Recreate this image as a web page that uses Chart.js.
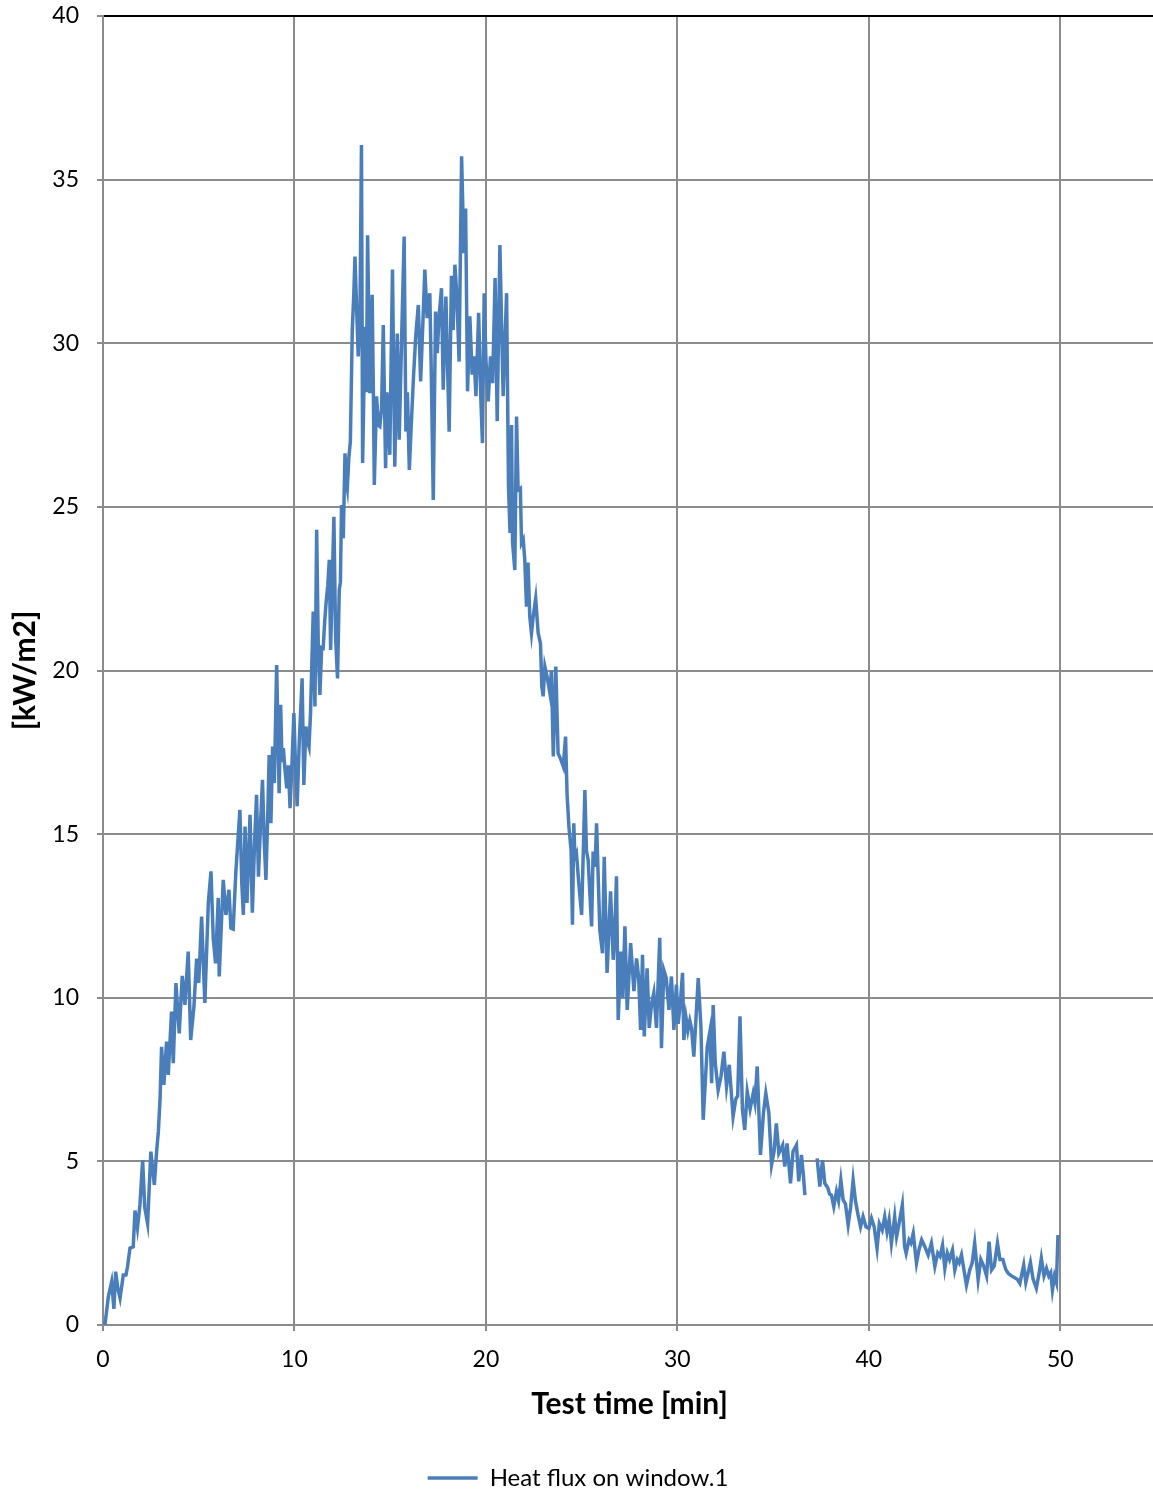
<!DOCTYPE html>
<html>
<head>
<meta charset="utf-8">
<title>Heat flux on window</title>
<script src="https://cdn.jsdelivr.net/npm/chart.js@4.4.1/dist/chart.umd.min.js"></script>
<style>
    html, body { margin: 0; padding: 0; background: #fff; overflow: hidden; }
    #wrap { position: relative; width: 1160px; height: 1494px; }
</style>
</head>
<body>
<div id="wrap"><canvas id="flux-chart"></canvas></div>
<script>
// measured heat flux, time in minutes; null marks the dropout near 37 min
var timeMin = [
    0.10, 0.28, 0.45, 0.57, 0.66, 0.78, 0.89, 1.06, 1.20, 1.28, 1.41, 1.58, 1.67, 1.80, 1.93, 2.07, 2.18, 2.33, 2.50, 2.68,
    2.80, 2.89, 2.98, 3.06, 3.18, 3.32, 3.41, 3.58, 3.67, 3.81, 3.98, 4.14, 4.28, 4.45, 4.58, 4.75, 4.89, 5.00, 5.15, 5.32,
    5.50, 5.64, 5.76, 5.88, 6.02, 6.07, 6.28, 6.42, 6.58, 6.68, 6.80, 6.94, 7.15, 7.25, 7.33, 7.42, 7.52, 7.68, 7.80, 7.92,
    8.02, 8.12, 8.22, 8.33, 8.42, 8.51, 8.60, 8.68, 8.77, 8.86, 8.95, 9.07, 9.20, 9.28, 9.35, 9.42, 9.50, 9.60, 9.68, 9.77,
    9.88, 9.97, 10.06, 10.14, 10.25, 10.40, 10.49, 10.60, 10.70, 10.76, 10.84, 10.98, 11.07, 11.16, 11.25, 11.33, 11.42, 11.50, 11.58, 11.65,
    11.74, 11.82, 11.89, 12.06, 12.15, 12.25, 12.34, 12.40, 12.46, 12.55, 12.64, 12.70, 12.76, 12.84, 12.92, 13.02, 13.10, 13.16, 13.25, 13.33,
    13.42, 13.50, 13.56, 13.64, 13.70, 13.76, 13.82, 13.94, 14.06, 14.12, 14.17, 14.29, 14.38, 14.46, 14.55, 14.64, 14.76, 14.83, 14.90, 14.98,
    15.05, 15.12, 15.24, 15.37, 15.47, 15.60, 15.73, 15.82, 15.90, 16.00, 16.10, 16.22, 16.34, 16.47, 16.59, 16.70, 16.81, 16.93, 17.07, 17.15,
    17.25, 17.37, 17.46, 17.55, 17.68, 17.77, 17.91, 18.08, 18.20, 18.29, 18.38, 18.48, 18.60, 18.73, 18.85, 18.94, 19.04, 19.16, 19.28, 19.38,
    19.48, 19.62, 19.74, 19.82, 19.91, 20.00, 20.12, 20.24, 20.35, 20.48, 20.59, 20.73, 20.90, 21.08, 21.18, 21.26, 21.34, 21.39, 21.51, 21.60,
    21.68, 21.80, 21.86, 21.95, 22.03, 22.12, 22.20, 22.29, 22.38, 22.48, 22.60, 22.73, 22.85, 22.92, 22.99, 23.08, 23.20, 23.34, 23.42, 23.52,
    23.65, 23.77, 23.90, 24.04, 24.16, 24.24, 24.34, 24.45, 24.52, 24.59, 24.65, 24.73, 24.85, 25.00, 25.17, 25.25, 25.34, 25.52, 25.60, 25.70,
    25.78, 25.95, 26.09, 26.18, 26.33, 26.42, 26.51, 26.65, 26.73, 26.82, 26.91, 27.05, 27.15, 27.26, 27.38, 27.56, 27.73, 27.87, 27.98, 28.08,
    28.18, 28.27, 28.42, 28.53, 28.65, 28.77, 28.91, 29.08, 29.17, 29.29, 29.42, 29.56, 29.69, 29.82, 29.95, 30.04, 30.15, 30.27, 30.34, 30.45,
    30.55, 30.65, 30.74, 30.86, 31.09, 31.23, 31.35, 31.56, 31.70, 31.79, 31.87, 31.98, 32.13, 32.28, 32.43, 32.57, 32.71, 32.91, 33.05, 33.15,
    33.27, 33.40, 33.52, 33.65, 33.80, 33.96, 34.05, 34.17, 34.34, 34.50, 34.62, 34.78, 34.92, 35.05, 35.17, 35.30, 35.50, 35.61, 35.73, 35.91,
    36.04, 36.22, 36.34, 36.48, 36.58, 36.66, 36.98, 37.30, 37.44, 37.58, 37.70, 37.85, 37.95, 38.05, 38.17, 38.31, 38.42, 38.54, 38.66, 38.78,
    38.92, 39.05, 39.18, 39.30, 39.44, 39.57, 39.70, 39.85, 40.00, 40.14, 40.28, 40.43, 40.55, 40.70, 40.83, 40.95, 41.06, 41.18, 41.35, 41.45,
    41.55, 41.75, 41.87, 41.95, 42.10, 42.20, 42.32, 42.49, 42.62, 42.76, 42.92, 43.10, 43.27, 43.45, 43.60, 43.72, 43.85, 43.97, 44.10, 44.22,
    44.37, 44.49, 44.62, 44.72, 44.84, 45.10, 45.27, 45.40, 45.53, 45.71, 45.85, 46.00, 46.15, 46.28, 46.41, 46.55, 46.72, 46.85, 47.00, 47.15,
    47.28, 47.45, 47.60, 47.75, 47.89, 48.09, 48.20, 48.32, 48.44, 48.58, 48.75, 48.90, 49.01, 49.15, 49.28, 49.40, 49.50, 49.59, 49.70, 49.80,
    49.88
];

var heatFlux = [
    0.00, 0.87, 1.32, 0.49, 1.63, 1.10, 0.82, 1.53, 1.53, 1.78, 2.35, 2.39, 3.50, 2.96, 3.67, 5.04, 3.60, 3.10, 5.30, 4.28,
    5.30, 5.90, 6.90, 8.50, 7.34, 8.66, 7.64, 9.58, 8.00, 10.45, 8.91, 10.67, 9.78, 11.41, 8.71, 9.73, 11.20, 10.45, 12.48, 9.84,
    12.89, 13.86, 11.80, 11.05, 13.05, 10.65, 13.60, 12.53, 13.30, 12.13, 12.10, 13.86, 15.74, 13.50, 12.53, 15.23, 12.90, 15.59, 12.60, 14.80,
    16.20, 13.70, 15.20, 16.66, 14.80, 13.60, 15.50, 17.42, 15.33, 17.68, 16.56, 20.17, 16.25, 18.95, 17.20, 17.63, 17.00, 16.40, 17.10, 15.79,
    17.30, 18.70, 17.00, 15.85, 17.80, 19.76, 16.50, 18.29, 17.80, 17.67, 18.70, 21.80, 18.90, 24.30, 20.50, 19.25, 20.70, 20.68, 21.50, 22.06,
    22.60, 23.38, 20.63, 24.70, 21.00, 19.76, 22.46, 22.70, 25.06, 24.04, 26.64, 25.80, 25.57, 26.50, 27.00, 30.40, 31.50, 32.65, 31.00, 29.60,
    30.80, 36.06, 26.34, 29.00, 30.50, 28.50, 33.30, 28.47, 31.48, 28.60, 25.67, 28.38, 27.50, 27.46, 28.00, 30.56, 26.18, 28.50, 27.86, 26.59,
    29.50, 32.25, 26.23, 30.30, 27.05, 30.20, 33.26, 27.30, 28.50, 26.13, 27.50, 29.00, 30.26, 31.17, 28.83, 30.50, 32.25, 30.77, 31.53, 29.00,
    25.21, 30.97, 29.70, 30.80, 31.68, 28.58, 31.43, 27.30, 32.06, 30.40, 32.40, 31.50, 29.44, 35.71, 32.75, 34.12, 28.53, 30.82, 29.04, 29.60,
    28.38, 30.93, 28.22, 26.95, 31.53, 29.50, 28.22, 29.60, 28.78, 31.99, 27.62, 33.00, 28.38, 31.53, 25.62, 24.20, 27.50, 23.94, 23.07, 27.76,
    25.52, 25.57, 23.89, 24.00, 23.38, 21.95, 23.30, 21.65, 21.14, 21.70, 22.20, 21.14, 20.83, 19.51, 19.21, 20.12, 19.80, 19.31, 20.00, 17.37,
    20.12, 17.47, 17.30, 17.07, 17.98, 16.20, 15.20, 14.50, 12.23, 15.33, 14.30, 14.41, 13.50, 12.53, 16.35, 14.50, 14.21, 12.18, 14.47, 14.00,
    15.33, 12.07, 11.36, 14.31, 10.76, 12.00, 13.25, 11.16, 12.00, 13.71, 9.32, 11.41, 10.00, 12.18, 9.63, 11.67, 10.20, 11.20, 10.60, 9.02,
    11.31, 8.82, 10.90, 9.08, 9.80, 10.15, 9.08, 11.83, 8.46, 10.85, 10.60, 9.63, 10.65, 9.02, 10.40, 9.20, 9.80, 10.76, 8.71, 9.40,
    9.00, 9.30, 9.07, 8.20, 10.60, 9.13, 6.27, 8.50, 8.97, 7.39, 9.78, 8.00, 7.18, 7.60, 8.35, 7.29, 7.95, 6.37, 6.90, 7.00,
    9.43, 6.57, 5.96, 7.13, 6.60, 7.08, 6.80, 7.90, 5.20, 6.50, 7.08, 6.47, 4.89, 5.30, 6.16, 5.25, 5.50, 4.84, 5.55, 4.33,
    5.30, 5.50, 4.39, 5.20, 4.60, 3.97, null, 5.09, 4.23, 5.04, 4.33, 4.20, 4.00, 3.97, 3.62, 4.08, 3.80, 4.43, 3.82, 3.70,
    3.06, 3.60, 4.43, 3.80, 3.36, 3.00, 3.31, 3.00, 2.95, 3.26, 3.00, 2.34, 3.10, 2.90, 3.31, 2.85, 3.21, 2.50, 3.31, 2.70,
    3.00, 3.67, 2.40, 2.19, 2.60, 2.50, 2.80, 1.89, 2.30, 2.60, 2.40, 2.14, 2.50, 1.79, 2.20, 2.10, 2.44, 1.73, 2.20, 2.00,
    2.29, 1.68, 2.00, 1.90, 2.14, 1.22, 1.68, 1.90, 2.50, 1.38, 2.00, 1.80, 1.50, 2.55, 1.68, 1.80, 2.50, 2.00, 2.00, 1.70,
    1.58, 1.50, 1.45, 1.40, 1.27, 1.83, 1.30, 1.60, 1.91, 1.40, 1.12, 1.60, 2.04, 1.50, 1.73, 1.50, 1.60, 1.07, 1.50, 1.30,
    2.75
];

var xTickValues = [0, 10, 20, 30, 40, 50];
var yTickValues = [0, 5, 10, 15, 20, 25, 30, 35, 40];
var seriesLabel = 'Heat flux on window.1';
var xTitle = 'Test time [min]';
var yTitle = '[kW/m2]';

var FONT = 'Lato, "Open Sans", sans-serif';
var LINE_BLUE = '#4a7ebb';
var GRID_GREY = '#8c8c8c';

function buildPoints() {
    return timeMin.map(function (t, i) {
        return { x: t, y: heatFlux[i] };
    });
}

function renderChart() {
    var ctx = document.getElementById('flux-chart').getContext('2d');
    return new Chart(ctx, {
        type: 'line',
        data: {
            datasets: [{
                label: seriesLabel,
                data: buildPoints(),
                borderColor: LINE_BLUE,
                backgroundColor: LINE_BLUE,
                borderWidth: 3.5,
                pointRadius: 0,
                tension: 0,
                spanGaps: false
            }]
        },
        options: {
            responsive: true,
            maintainAspectRatio: false,
            animation: false,
            layout: { padding: { top: 0, right: 4, left: 0, bottom: -6 } },
            plugins: {
                tooltip: { enabled: false },
                legend: {
                    position: 'bottom',
                    labels: {
                        usePointStyle: true,
                        pointStyle: 'line',
                        pointStyleWidth: 50,
                        color: '#000',
                        padding: 7,
                        font: { family: FONT, size: 24 }
                    }
                }
            },
            scales: {
                x: {
                    type: 'linear',
                    min: 0,
                    max: 55,
                    afterBuildTicks: function (axis) {
                        axis.ticks = xTickValues.map(function (v) { return { value: v }; });
                    },
                    afterFit: function (scale) { scale.height = 134; },
                    grid: { color: GRID_GREY, lineWidth: 2, tickLength: 6, tickColor: GRID_GREY },
                    border: { color: GRID_GREY, width: 2 },
                    ticks: { color: '#000', padding: 15, maxRotation: 0, font: { family: FONT, size: 23 } },
                    title: {
                        display: true,
                        text: xTitle,
                        color: '#000',
                        padding: { top: 0, bottom: 37 },
                        font: { family: FONT, size: 30, weight: 'bold' }
                    }
                },
                y: {
                    min: 0,
                    max: 40,
                    afterBuildTicks: function (axis) {
                        axis.ticks = yTickValues.map(function (v) { return { value: v }; });
                    },
                    afterFit: function (scale) {
                        scale.width = 103;
                        // keep the plot top close to the canvas edge
                        scale.paddingTop = 16;
                        scale.paddingBottom = 0;
                    },
                    grid: {
                        color: function (c) { return c.tick && c.tick.value === 40 ? '#000' : GRID_GREY; },
                        lineWidth: 2,
                        tickLength: 6,
                        tickColor: GRID_GREY
                    },
                    border: { color: GRID_GREY, width: 2 },
                    ticks: { color: '#000', padding: 18, font: { family: FONT, size: 23 } },
                    title: {
                        display: true,
                        text: yTitle,
                        color: '#000',
                        padding: { top: 7, bottom: 0 },
                        font: { family: FONT, size: 30, weight: 'bold' }
                    }
                }
            }
        }
    });
}

renderChart();
</script>
</body>
</html>
